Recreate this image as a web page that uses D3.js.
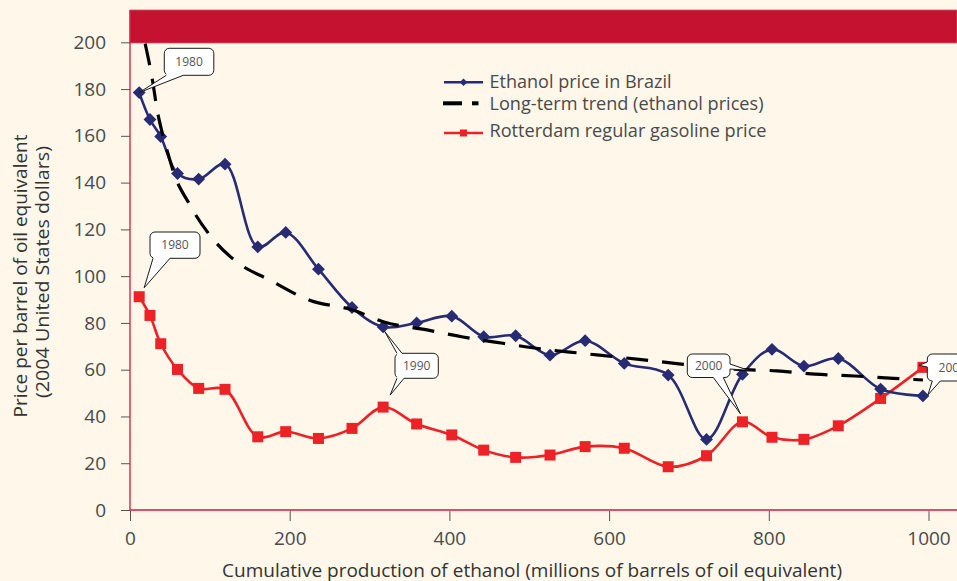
<!DOCTYPE html>
<html>
<head>
<meta charset="utf-8">
<script src="https://cdn.jsdelivr.net/npm/d3@7"></script>
<style>
  html, body { margin: 0; padding: 0; background: #fef7ea; }
  svg { display: block; }
</style>
</head>
<body>
<svg id="chart" width="957" height="581"></svg>
<script>
// Cumulative ethanol production (millions of barrels of oil equivalent), one entry per year 1980-2005
const years = [1980, 1981, 1982, 1983, 1984, 1985, 1986, 1987, 1988, 1989, 1990, 1991, 1992,
               1993, 1994, 1995, 1996, 1997, 1998, 1999, 2000, 2001, 2002, 2003, 2004, 2005];
const production = [11.5, 25, 38.5, 59.5, 86, 119, 160, 195, 236, 278, 317, 359, 403,
                    443, 483, 526, 570, 619, 674, 722, 767, 804, 844, 887, 940, 993];
// Prices per barrel of oil equivalent (2004 US dollars)
const ethanolPrice = [178.5, 167, 159.7, 143.9, 141.5, 147.9, 112.5, 118.7, 103, 86.6, 78.3, 80, 82.9,
                      74.1, 74.5, 66.2, 72.4, 62.7, 57.7, 30.2, 58, 68.7, 61.5, 64.8, 51.7, 48.8];
const gasolinePrice = [91.2, 83.2, 71.1, 60.1, 52, 51.6, 31.3, 33.5, 30.6, 34.9, 44, 36.8, 32.1,
                       25.6, 22.5, 23.5, 27.1, 26.4, 18.5, 23.2, 37.7, 31.1, 30.2, 36, 47.7, 61];
// Long-term trend of ethanol prices
const trendProduction = [19, 29, 33.5, 41.7, 50, 54, 74, 100, 134, 175, 225, 279, 317, 372,
                         417, 467, 517, 566, 616, 664, 764, 810, 858, 908, 956, 993];
const trendPrice = [199.4, 182, 172, 159.5, 149.6, 145, 131, 117.5, 106, 98.3, 89.7, 85.5, 80.5, 77,
                    74, 71.3, 68.8, 67, 65.2, 63.4, 60.1, 59.5, 58.1, 57.3, 56.3, 55.6];

const xTicks = [0, 200, 400, 600, 800, 1000];
const yTicks = [0, 20, 40, 60, 80, 100, 120, 140, 160, 180, 200];

const legendLabels = ["Ethanol price in Brazil", "Long-term trend (ethanol prices)", "Rotterdam regular gasoline price"];
const xTitle = "Cumulative production of ethanol (millions of barrels of oil equivalent)";
const yTitle = ["Price per barrel of oil equivalent", "(2004 United States dollars)"];

const FONT = "'Open Sans', 'Noto Sans', sans-serif";
const BLUE = "#272b74", RED = "#ec2227", BAND = "#c41230", AXIS_RED = "#d3193c", TEXT = "#4a4a4a";

const svg = d3.select("#chart");
const W = 957, H = 581;

const x = d3.scaleLinear().domain([0, 1000]).range([130, 928.5]);
const y = d3.scaleLinear().domain([0, 200]).range([510, 42.3]);

svg.append("rect").attr("width", W).attr("height", H).attr("fill", "#fef7ea");

// Plot clip region below the banner
svg.append("defs").append("clipPath").attr("id", "plotClip")
  .append("rect").attr("x", 130).attr("y", 43).attr("width", W - 130).attr("height", 510 - 43);

// Red banner across the top of the plot
svg.append("rect").attr("x", 130).attr("y", 10).attr("width", W - 130).attr("height", 33)
  .attr("fill", BAND).attr("stroke", "#d9566d").attr("stroke-width", 0.8);

// Axes
const yAxis = svg.append("g").attr("transform", "translate(130,0)")
  .call(d3.axisLeft(y).tickValues(yTicks).tickSize(9).tickPadding(15).tickFormat(d3.format("d")));
const xAxis = svg.append("g").attr("transform", "translate(0,511)")
  .call(d3.axisBottom(x).tickValues(xTicks).tickSize(10).tickPadding(10.5).tickFormat(d3.format("d")));
[yAxis, xAxis].forEach(g => {
  g.select(".domain").remove();
  g.selectAll(".tick line").attr("stroke", "#555").attr("stroke-width", 1);
  g.selectAll(".tick text").attr("fill", TEXT).style("font-family", FONT).style("font-size", "19px");
});

// Red axis lines
svg.append("line").attr("x1", 130).attr("x2", 130).attr("y1", 10).attr("y2", 510.5)
  .attr("stroke", AXIS_RED).attr("stroke-width", 1.3);
svg.append("line").attr("x1", 130).attr("x2", W).attr("y1", 510).attr("y2", 510)
  .attr("stroke", AXIS_RED).attr("stroke-width", 1.3);

// Axis titles
svg.append("text").attr("x", 532).attr("y", 577).attr("text-anchor", "middle")
  .attr("textLength", 620).attr("lengthAdjust", "spacingAndGlyphs")
  .style("font-family", FONT).style("font-size", "18px").attr("fill", "#333").text(xTitle);
svg.append("text").attr("transform", "translate(26.5,276) rotate(-90)").attr("text-anchor", "middle")
  .attr("textLength", 283).attr("lengthAdjust", "spacingAndGlyphs")
  .style("font-family", FONT).style("font-size", "18px").attr("fill", "#333").text(yTitle[0]);
svg.append("text").attr("transform", "translate(49,272) rotate(-90)").attr("text-anchor", "middle")
  .attr("textLength", 252).attr("lengthAdjust", "spacingAndGlyphs")
  .style("font-family", FONT).style("font-size", "18px").attr("fill", "#333").text(yTitle[1]);

// Series
const ethanol = production.map((p, i) => ({ x: p, y: ethanolPrice[i], year: years[i] }));
const gasoline = production.map((p, i) => ({ x: p, y: gasolinePrice[i], year: years[i] }));
const trend = trendProduction.map((p, i) => ({ x: p, y: trendPrice[i] }));
const seriesByName = { ethanol, gasoline };

const plot = svg.append("g").attr("clip-path", "url(#plotClip)");
const smooth = d3.line().x(d => x(d.x)).y(d => y(d.y)).curve(d3.curveCatmullRom.alpha(0.5));
const trendLine = d3.line().x(d => x(d.x)).y(d => y(d.y)).curve(d3.curveMonotoneX);

plot.append("path").datum(gasoline).attr("d", smooth)
  .attr("fill", "none").attr("stroke", RED).attr("stroke-width", 2.6);
plot.append("g").selectAll("rect").data(gasoline).join("rect")
  .attr("x", d => x(d.x) - 5.5).attr("y", d => y(d.y) - 5.5)
  .attr("width", 11).attr("height", 11).attr("fill", RED);

plot.append("path").datum(ethanol).attr("d", smooth)
  .attr("fill", "none").attr("stroke", BLUE).attr("stroke-width", 2.6);
const diamond = d3.symbol().type(d3.symbolDiamond2).size(105);
plot.append("g").selectAll("path").data(ethanol).join("path")
  .attr("transform", d => `translate(${x(d.x)},${y(d.y)})`)
  .attr("d", diamond).attr("fill", BLUE);

plot.append("path").datum(trend).attr("d", trendLine)
  .attr("fill", "none").attr("stroke", "#000").attr("stroke-width", 3.2)
  .attr("stroke-dasharray", "22,14");

// Legend
const legend = svg.append("g");
legend.append("line").attr("x1", 444).attr("x2", 483).attr("y1", 82.3).attr("y2", 82.3)
  .attr("stroke", BLUE).attr("stroke-width", 2.6);
legend.append("path").attr("transform", "translate(463.5,82.3)")
  .attr("d", d3.symbol().type(d3.symbolDiamond2).size(36)).attr("fill", BLUE);
legend.append("line").attr("x1", 443).attr("x2", 462).attr("y1", 103.3).attr("y2", 103.3)
  .attr("stroke", "#000").attr("stroke-width", 4);
legend.append("line").attr("x1", 472).attr("x2", 478.5).attr("y1", 103.3).attr("y2", 103.3)
  .attr("stroke", "#000").attr("stroke-width", 4);
legend.append("line").attr("x1", 444).attr("x2", 483).attr("y1", 133).attr("y2", 133)
  .attr("stroke", RED).attr("stroke-width", 2.6);
legend.append("rect").attr("x", 460).attr("y", 129.5).attr("width", 7).attr("height", 7).attr("fill", RED);
const legendText = [{ t: legendLabels[0], y: 87.7, w: 182 }, { t: legendLabels[1], y: 110, w: 274 }, { t: legendLabels[2], y: 136.7, w: 277 }];
legend.selectAll("text").data(legendText).join("text")
  .attr("x", 489.5).attr("y", d => d.y)
  .attr("textLength", d => d.w).attr("lengthAdjust", "spacingAndGlyphs")
  .style("font-family", FONT).style("font-size", "18px").attr("fill", TEXT).text(d => d.t);

// Year callouts: box in pixels, pointers run from a stretch of one box edge to a marker
const callouts = [
  { year: 1980, box: { x: 164.3, y: 48.3, w: 49.5, h: 27 },
    pointers: [{ side: "bottom", from: 2, to: 19, series: "ethanol", nudge: [0, 0] }] },
  { year: 1980, box: { x: 150, y: 232, w: 50, h: 26.3 },
    pointers: [{ side: "bottom", from: 3, to: 20, series: "gasoline", nudge: [5, -9] }] },
  { year: 1990, box: { x: 395, y: 353.3, w: 43.3, h: 25 },
    pointers: [{ side: "top", from: 2, to: 7, series: "ethanol", nudge: [1.5, 4.5] },
               { side: "bottom", from: 2, to: 9, series: "gasoline", nudge: [7, -12] }] },
  { year: 2000, box: { x: 687.3, y: 354, w: 42.7, h: 23.5 },
    pointers: [{ side: "right", from: 10, to: 15, series: "ethanol", nudge: [6, -4] },
               { side: "bottom", from: 26, to: 36, series: "gasoline", nudge: [-2, -8] }] },
  { year: 2005, box: { x: 927.3, y: 354, w: 50, h: 27 },
    pointers: [{ side: "left", from: 8, to: 13, series: "gasoline", nudge: [-4, -2] },
               { side: "bottom", from: 5, to: 13, series: "ethanol", nudge: [5, -1] }] }
];

const notes = svg.append("g");
callouts.forEach(c => {
  const g = notes.append("g");
  const b = c.box;
  g.append("rect").attr("x", b.x).attr("y", b.y).attr("width", b.w).attr("height", b.h)
    .attr("rx", 5).attr("fill", "#fff").attr("stroke", "#1a1a1a").attr("stroke-width", 1);
  c.pointers.forEach(p => {
    const pt = seriesByName[p.series][years.indexOf(c.year)];
    const tip = [x(pt.x) + p.nudge[0], y(pt.y) + p.nudge[1]];
    let b1, b2, in1, in2;
    if (p.side === "bottom") {
      b1 = [b.x + p.from, b.y + b.h]; b2 = [b.x + p.to, b.y + b.h];
      in1 = [b1[0], b1[1] - 2]; in2 = [b2[0], b2[1] - 2];
    } else if (p.side === "top") {
      b1 = [b.x + p.from, b.y]; b2 = [b.x + p.to, b.y];
      in1 = [b1[0], b1[1] + 2]; in2 = [b2[0], b2[1] + 2];
    } else if (p.side === "left") {
      b1 = [b.x, b.y + p.from]; b2 = [b.x, b.y + p.to];
      in1 = [b1[0] + 2, b1[1]]; in2 = [b2[0] + 2, b2[1]];
    } else {
      b1 = [b.x + b.w, b.y + p.from]; b2 = [b.x + b.w, b.y + p.to];
      in1 = [b1[0] - 2, b1[1]]; in2 = [b2[0] - 2, b2[1]];
    }
    g.append("path").attr("d", d3.line()([in1, b1, tip, b2, in2]) + "Z").attr("fill", "#fff");
    g.append("path").attr("d", d3.line()([b1, tip, b2])).attr("fill", "none")
      .attr("stroke", "#1a1a1a").attr("stroke-width", 1).attr("stroke-linejoin", "miter");
  });
  g.append("text").attr("x", b.x + b.w / 2).attr("y", b.y + b.h / 2 + 4.3).attr("text-anchor", "middle")
    .style("font-family", FONT).style("font-size", "12px").attr("fill", "#555").text(c.year);
});
</script>
</body>
</html>
